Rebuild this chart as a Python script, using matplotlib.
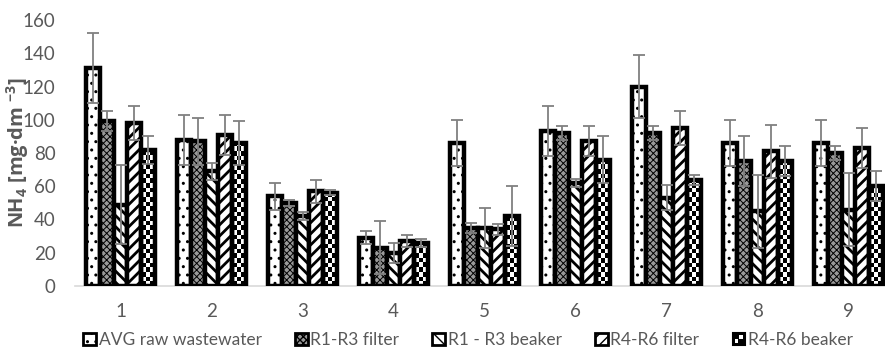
import numpy as np
import matplotlib
matplotlib.use("Agg")
import matplotlib.pyplot as plt
from matplotlib.patches import Patch, Rectangle
from matplotlib.legend_handler import HandlerBase

plt.rcParams['font.family'] = ['Lato', 'DejaVu Sans']
plt.rcParams['mathtext.default'] = 'regular'

samples = [1, 2, 3, 4, 5, 6, 7, 8, 9]
series = ["AVG raw wastewater", "R1-R3 filter", "R1 - R3 beaker",
          "R4-R6 filter", "R4-R6 beaker"]

avg_raw = [131, 88, 54, 29, 86, 93, 120, 86, 86]
avg_raw_err = [21, 15, 8, 4, 14, 15, 19, 14, 14]
r13_filter = [99, 87, 50, 23, 35, 92, 92, 75, 80]
r13_filter_err = [6, 14, 2, 16, 3, 4, 4, 15, 4]
r13_beaker = [49, 69, 42, 20, 35, 62, 53, 45, 46]
r13_beaker_err = [24, 5, 2.5, 6, 12, 2.5, 7.5, 22, 22]
r46_filter = [98, 91, 57, 27, 34, 87, 95, 81, 83]
r46_filter_err = [10, 12, 7, 3.5, 3.5, 9, 10, 16, 12]
r46_beaker = [82, 86, 56, 26, 42, 76, 64, 75, 60]
r46_beaker_err = [8.5, 13, 1.5, 2.5, 18, 14, 3, 9, 9]

values = [avg_raw, r13_filter, r13_beaker, r46_filter, r46_beaker]
errors = [avg_raw_err, r13_filter_err, r13_beaker_err, r46_filter_err, r46_beaker_err]

grey = '#595959'
edge_lw = 3.2
bw = 0.152

fig = plt.figure(figsize=(8.85, 3.55), dpi=100)
ax = fig.add_axes([75/885, 69/355, 819/885, 266/355])

x = np.array(samples, dtype=float)

# fill styles per series: (facecolor, hatch, hatch linewidth)
styles = [('white', '..', 1.0),
          ('#9a9a9a', 'xxxxx', 0.7),
          ('white', '\\\\\\', 2.0),
          ('white', '///', 2.0),
          (None, None, None)]

for i, (vals, errs) in enumerate(zip(values, errors)):
    pos = x + (i - 2) * bw
    fc, hatch, hlw = styles[i]
    if fc is not None:
        with plt.rc_context({'hatch.linewidth': hlw}):
            ax.bar(pos, vals, width=bw, facecolor=fc, edgecolor='black',
                   hatch=hatch, linewidth=edge_lw, zorder=3)
    else:
        # checkerboard fill, clipped to each bar outline
        bars = ax.bar(pos, vals, width=bw, facecolor='none', edgecolor='black',
                      linewidth=edge_lw, zorder=3)
        sq = 2.8
        for b in bars:
            ny = int(np.ceil(b.get_height() / sq))
            board = np.indices((ny, 3)).sum(axis=0) % 2
            im = ax.imshow(board, cmap='gray', interpolation='nearest',
                           extent=(b.get_x(), b.get_x() + b.get_width(), 0, ny * sq),
                           origin='lower', aspect='auto', zorder=2)
            im.set_clip_path(b)
    ax.errorbar(pos, vals, yerr=errs, fmt='none', ecolor='#808080',
                elinewidth=1.3, capsize=4, capthick=1.3, zorder=4)

ax.set_xlim(0.5, 9.5)
ax.set_ylim(0, 160)
ax.set_yticks(np.arange(0, 161, 20))
ax.set_xticks(x)
ax.set_xticklabels([str(s) for s in samples])
ax.tick_params(axis='both', length=0, labelsize=13.5, colors=grey)
ax.tick_params(axis='x', pad=12)
ax.tick_params(axis='y', pad=14)
for s in ['top', 'right', 'left']:
    ax.spines[s].set_visible(False)
ax.spines['bottom'].set_color('#d9d9d9')
ax.spines['bottom'].set_linewidth(1.2)

ax.set_ylabel(r'NH$_4$ [mg·dm $^{-3}$]', fontsize=14.5, fontweight='bold',
              family=['Open Sans', 'DejaVu Sans'], color=grey)
ax.yaxis.set_label_coords(-0.054, 0.5)


class CheckerHandler(HandlerBase):
    def create_artists(self, legend, orig_handle, xdescent, ydescent,
                       width, height, fontsize, trans):
        s = min(width, height)
        x0 = xdescent + (width - s) / 2
        y0 = -ydescent
        q = s / 3
        arts = [Rectangle((x0, y0), s, s, facecolor='black', edgecolor='black',
                          lw=1.5, transform=trans)]
        for cx, cy in [(0.6, 0.6), (1.6, 1.6)]:
            arts.append(Rectangle((x0 + q * cx, y0 + q * cy), q * 0.8, q * 0.8,
                                  facecolor='white', lw=0, transform=trans))
        return arts


handles = []
for i in range(4):
    fc, hatch, hlw = styles[i]
    with plt.rc_context({'hatch.linewidth': hlw}):
        handles.append(Patch(facecolor=fc, edgecolor='black', hatch=hatch, lw=2))
checker = Patch(facecolor='black', edgecolor='black')
handles.append(checker)

leg = fig.legend(handles, series, loc='center', bbox_to_anchor=(468/885, 15/355),
                 ncol=5, frameon=False, fontsize=12.5, handlelength=0.75,
                 handleheight=0.75, handletextpad=0.15, columnspacing=1.9,
                 handler_map={checker: CheckerHandler()})
for t in leg.get_texts():
    t.set_color(grey)

fig.savefig("out.png", dpi=100)
